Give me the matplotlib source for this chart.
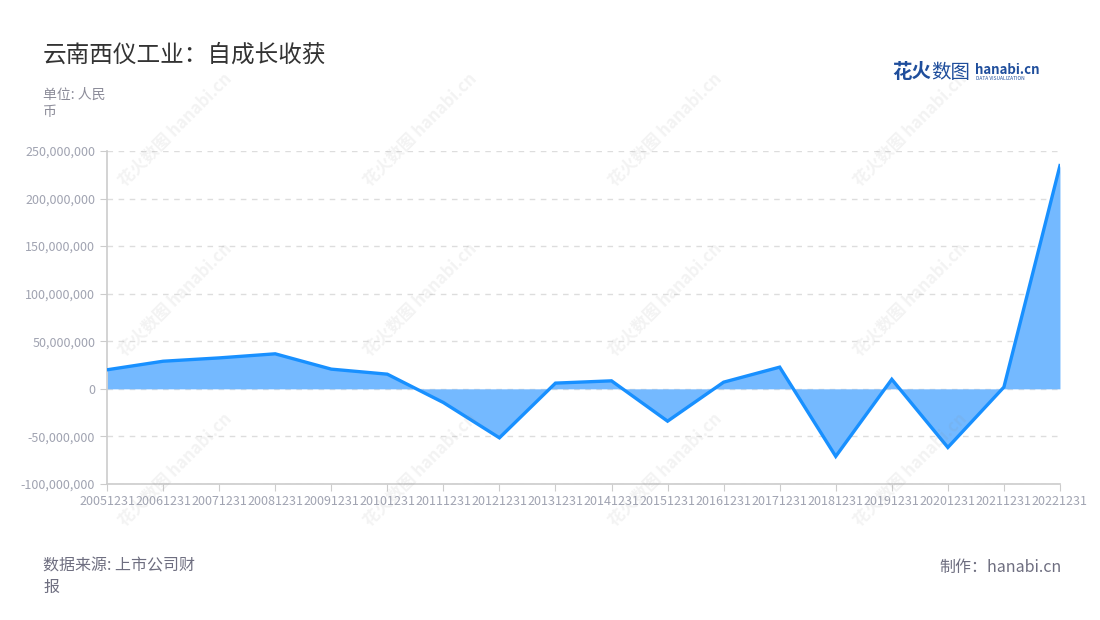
import matplotlib
matplotlib.use('Agg')
import matplotlib.pyplot as plt
from matplotlib.ticker import FuncFormatter, MultipleLocator
import numpy as np

plt.rcParams['font.family'] = ['Noto Sans CJK SC', 'DejaVu Sans']

# 데이터 -------------------------------
dates = ['20051231', '20061231', '20071231', '20081231', '20091231', '20101231',
         '20111231', '20121231', '20131231', '20141231', '20151231', '20161231',
         '20171231', '20181231', '20191231', '20201231', '20211231', '20221231']
values = [20.0, 29.0, 32.5, 36.8, 20.7, 15.4,
          -14.4, -51.5, 6.0, 8.4, -34.0, 7.0,
          22.8, -71.0, 10.0, -61.6, 1.8, 234.6]  # 单位: 百万
values = [v * 1e6 for v in values]

title = '云南西仪工业：自成长收获'
unit_text = '单位: 人民\n币'
source_text = '数据来源: 上市公司财\n报'
maker_text = '制作：hanabi.cn'

line_color = '#1890ff'
fill_color = '#74b9ff'
tick_color = '#a0a3b1'

fig = plt.figure(figsize=(11, 6.2), dpi=100)
ax = fig.add_axes([0.0973, 0.2194, 0.8663, 0.5371])

x = np.arange(len(dates))
ax.fill_between(x, values, 0, color=fill_color, linewidth=0, zorder=2)
ax.plot(x, values, color=line_color, linewidth=2.4, zorder=3, solid_joinstyle='miter')

ax.set_xlim(0, len(dates) - 1)
ax.set_ylim(-100e6, 250e6)
ax.yaxis.set_major_locator(MultipleLocator(50e6))
ax.yaxis.set_major_formatter(FuncFormatter(lambda v, p: f'{int(v):,}'))
ax.set_xticks(x)
ax.set_xticklabels(dates)

ax.grid(axis='y', color='#dddddd', linestyle=(0, (4, 4)), linewidth=1, zorder=1)
for s in ['top', 'right']:
    ax.spines[s].set_visible(False)
for s in ['left', 'bottom']:
    ax.spines[s].set_color('#cccccc')
    ax.spines[s].set_linewidth(1.2)
ax.tick_params(axis='both', colors='#cccccc', labelcolor=tick_color, labelsize=9, length=5)
ax.tick_params(axis='x', pad=3)

# 워터마크
for cx in [175, 420, 665, 910]:
    for cy in [130, 300, 470]:
        fig.text(cx / 1100, 1 - cy / 620, '花火数图 hanabi.cn', rotation=45,
                 ha='center', va='center', fontsize=12, color='#888888', alpha=0.1,
                 fontweight='bold', zorder=0)

# 텍스트
fig.text(43 / 1100, 1 - 55 / 620, title, fontsize=17, color='#333333', va='center')
fig.text(43 / 1100, 1 - 88 / 620, unit_text, fontsize=10, color='#8c8c99', va='top',
         linespacing=1.3)
fig.text(43 / 1100, 1 - 557 / 620, source_text, fontsize=11.5, color='#6e6e80', va='top',
         linespacing=1.35)
fig.text(1062 / 1100, 1 - 567 / 620, maker_text, fontsize=11.5, color='#6e6e80', va='center',
         ha='right')

# 로고
fig.text(892 / 1100, 1 - 72 / 620, '花火', fontsize=14, color='#1f4e9c', va='center',
         fontweight='bold')
fig.text(931 / 1100, 1 - 72 / 620, '数图', fontsize=14, color='#1f4e9c', va='center')
fig.text(975 / 1100, 1 - 70 / 620, 'hanabi.cn', fontsize=9.5, color='#1f4e9c', va='center',
         fontweight='bold')
fig.text(976 / 1100, 1 - 79 / 620, 'DATA VISUALIZATION', fontsize=3.5, color='#1f4e9c',
         va='center')

plt.savefig('out.png', dpi=100)
